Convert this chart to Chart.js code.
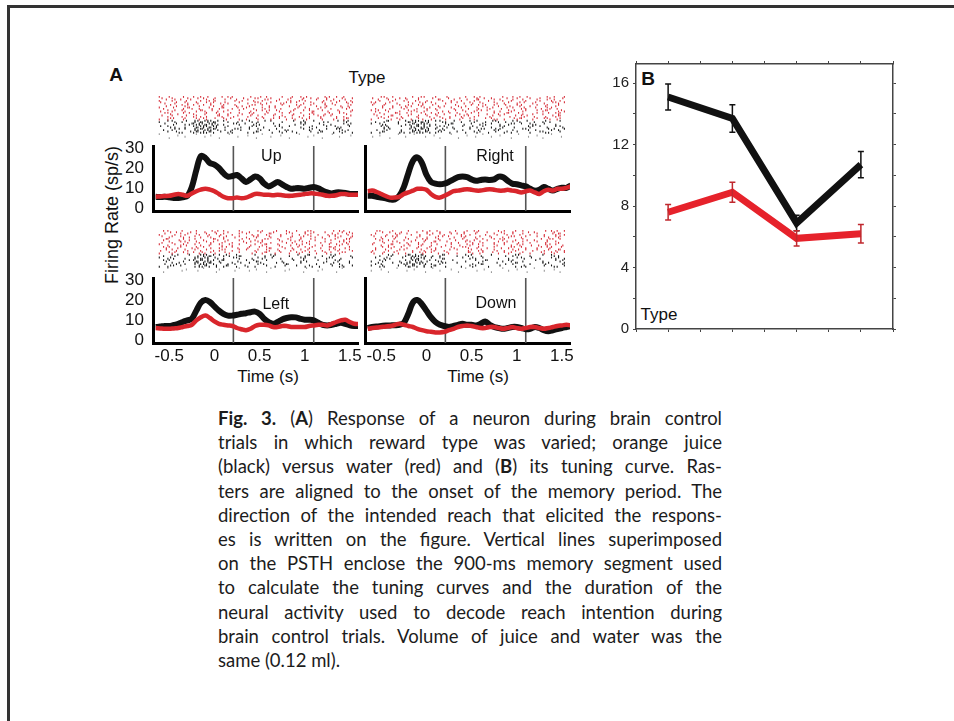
<!DOCTYPE html>
<html>
<head>
<meta charset="utf-8">
<script src="https://cdn.jsdelivr.net/npm/chart.js@4.4.1/dist/chart.umd.min.js"></script>
<style>
  html, body { margin: 0; padding: 0; background: #fff; }
  body { width: 954px; height: 721px; position: relative; overflow: hidden;
         font-family: "Liberation Sans", Arial, sans-serif; color: #111; }
  canvas { position: absolute; display: block; }
  .frame { position: absolute; background: #333; }
  .lbl { position: absolute; white-space: nowrap; transform: translate(-50%, -50%); }
  #caption { position: absolute; left: 218px; top: 406px; width: 504px;
             font-family: Lato, "Noto Sans", sans-serif; font-size: 18.5px; line-height: 24.2px; color: #1c1c1c; }
  #caption div { text-align: justify; text-align-last: justify; height: 24.2px; }
  #caption div.last { text-align-last: left; }
</style>
</head>
<body>
<div class="frame" style="left:7px;top:5px;width:947px;height:3px"></div>
<div class="frame" style="left:7px;top:5px;width:3px;height:716px"></div>

<div class="lbl" style="left:116px;top:75px;font-weight:bold;font-size:19px">A</div>
<div class="lbl" style="left:367px;top:78px;font-size:17px">Type</div>
<div class="lbl" style="left:112px;top:215px;font-size:18px;transform:translate(-50%,-50%) rotate(-90deg)">Firing Rate (sp/s)</div>
<div class="lbl" style="left:268px;top:377px;font-size:17px">Time (s)</div>
<div class="lbl" style="left:478px;top:377px;font-size:17px">Time (s)</div>
<div class="lbl" style="left:648px;top:79px;font-weight:bold;font-size:19px">B</div>
<div class="lbl" style="left:659px;top:315px;font-size:17px">Type</div>

<div id="caption">
  <div><b>Fig. 3.</b> (<b>A</b>) Response of a neuron during brain control</div>
  <div>trials in which reward type was varied; orange juice</div>
  <div>(black) versus water (red) and (<b>B</b>) its tuning curve. Ras-</div>
  <div>ters are aligned to the onset of the memory period. The</div>
  <div>direction of the intended reach that elicited the respons-</div>
  <div>es is written on the figure. Vertical lines superimposed</div>
  <div>on the PSTH enclose the 900-ms memory segment used</div>
  <div>to calculate the tuning curves and the duration of the</div>
  <div>neural activity used to decode reach intention during</div>
  <div>brain control trials. Volume of juice and water was the</div>
  <div class="last">same (0.12 ml).</div>
</div>

<script>
// ---- data ----
// PSTH bins (s), one per 50 ms
const timeGrid = [-0.65, -0.6, -0.55, -0.5, -0.45, -0.4, -0.35, -0.3, -0.25, -0.2,
                  -0.15, -0.1, -0.05, 0, 0.05, 0.1, 0.15, 0.2, 0.25, 0.3,
                  0.35, 0.4, 0.45, 0.5, 0.55, 0.6, 0.65, 0.7, 0.75, 0.8,
                  0.85, 0.9, 0.95, 1, 1.05, 1.1, 1.15, 1.2, 1.25, 1.3,
                  1.35, 1.4, 1.45, 1.5, 1.55, 1.6];
const timeTicks = [-0.5, 0, 0.5, 1, 1.5];
const rateTicks = [0, 10, 20, 30];
const memoryWindow = [0.21, 1.1];
const directions = ['Up', 'Right', 'Left', 'Down'];

// firing rates (sp/s): juice = black, water = red
const upJuice = [5.6, 5.5, 5.6, 5.3, 5.0, 5.0, 5.4, 6.0, 10.5, 19.0,
                 26.0, 25.0, 22.5, 21.7, 20.0, 17.4, 15.7, 16.0, 16.5, 14.8,
                 13.0, 14.3, 15.7, 14.8, 12.2, 10.8, 11.8, 13.0, 11.8, 10.5,
                 9.6, 9.9, 9.9, 9.6, 10.1, 10.5, 9.9, 8.7, 7.8, 7.3,
                 7.8, 7.8, 7.5, 7.0, 7.0, 7.0];
const upWater = [5.6, 5.8, 6.0, 6.1, 6.6, 7.0, 6.6, 6.1, 7.3, 8.4,
                 9.2, 9.6, 9.2, 8.4, 7.0, 5.6, 4.9, 4.9, 5.2, 4.9,
                 5.2, 6.1, 7.0, 7.0, 6.6, 6.6, 6.4, 6.6, 6.4, 6.1,
                 6.1, 6.4, 6.6, 7.0, 7.3, 7.3, 7.0, 6.6, 6.1, 6.1,
                 6.4, 7.0, 7.0, 6.6, 6.6, 6.6];
const rightJuice = [6.1, 6.1, 5.6, 5.2, 4.8, 4.3, 4.3, 6.1, 10.5, 17.4,
                    23.5, 25.3, 22.6, 16.6, 13.1, 12.2, 11.9, 12.2, 13.1, 14.3,
                    15.4, 15.7, 15.4, 14.3, 13.6, 14.0, 14.3, 14.0, 14.3, 15.7,
                    15.4, 13.6, 12.2, 11.9, 11.3, 10.8, 9.6, 8.7, 9.1, 10.5,
                    9.6, 8.7, 9.6, 10.1, 10.1, 11.3];
const rightWater = [8.4, 8.7, 8.0, 7.0, 6.0, 5.2, 5.2, 5.6, 7.0, 7.8,
                    8.7, 9.6, 9.6, 9.1, 7.0, 5.6, 5.2, 6.1, 7.3, 8.4,
                    8.7, 9.1, 9.4, 9.1, 8.7, 8.7, 9.1, 9.4, 9.1, 8.7,
                    8.7, 9.1, 8.7, 8.4, 7.8, 8.4, 8.7, 7.8, 7.0, 8.4,
                    9.1, 8.7, 9.6, 9.6, 10.1, 10.8];
const leftJuice = [6.5, 6.7, 7.0, 7.0, 7.5, 8.1, 9.0, 9.8, 10.6, 14.7,
                   18.7, 20.0, 19.0, 16.8, 14.7, 13.1, 12.2, 12.2, 12.6, 13.1,
                   13.4, 13.9, 14.2, 13.1, 10.6, 9.0, 8.1, 9.0, 10.3, 11.0,
                   11.4, 11.3, 10.6, 10.1, 10.1, 9.8, 8.6, 7.6, 7.3, 7.6,
                   8.1, 8.6, 8.1, 7.3, 7.0, 7.0];
const leftWater = [6.0, 5.8, 5.6, 5.6, 5.8, 6.0, 6.5, 7.0, 7.6, 9.8,
                   11.4, 12.2, 11.0, 9.3, 8.1, 7.6, 7.3, 7.0, 6.0, 5.4,
                   4.9, 5.6, 7.0, 7.6, 7.6, 7.3, 6.5, 6.5, 7.0, 7.0,
                   6.5, 6.5, 6.5, 6.5, 7.0, 7.3, 7.6, 7.6, 7.3, 8.1,
                   9.0, 9.8, 10.1, 9.0, 8.1, 8.0];
const downJuice = [6.0, 6.5, 6.8, 7.0, 7.2, 7.3, 7.4, 7.6, 8.6, 13.1,
                   18.7, 20.0, 17.9, 14.7, 11.4, 9.0, 7.6, 7.0, 6.5, 7.0,
                   7.6, 8.1, 7.6, 7.6, 7.3, 8.1, 9.3, 7.6, 6.5, 6.0,
                   5.6, 6.0, 6.5, 6.5, 6.0, 5.4, 5.6, 6.5, 6.0, 4.9,
                   4.4, 4.9, 5.4, 6.0, 6.5, 7.0];
const downWater = [5.6, 6.0, 6.2, 6.5, 6.8, 7.0, 7.5, 8.1, 7.6, 7.0,
                   6.5, 5.6, 4.9, 4.4, 4.1, 3.8, 3.8, 4.1, 4.9, 5.6,
                   6.5, 7.0, 7.3, 7.0, 6.5, 6.0, 6.0, 6.5, 6.5, 6.0,
                   5.6, 6.0, 6.5, 6.0, 5.6, 6.0, 6.5, 6.5, 6.0, 5.6,
                   6.0, 6.5, 7.0, 7.3, 7.6, 7.3];

// rasters: each string holds two trials, one char per 50-ms bin
// '.' none; 1/2/3 spike in first trial (early/mid/late in bin); a/b/c same for second trial;
// x, y, z spikes in both trials
const upRasterWater = [
  "x.2a.3c.1y b2.a3.x1.c .2by.1a.3. c1.x2b.a3y .2c1.a",
  "a3.y.1b2.c .x3a.2.c1b 3.a.y2.b1. x.c2a.3.b1 y.a2c.",
  "2b.c1.x.3a .1y.b2a.3. c.2x.a1.by 3.1c.2a.x. b2.3a1",
  ".c3.a2y.1b 2.x.c1.3ab .y2.1c.a3. b.x1.2c.3a .1b.y2",
  "1a.2.c3x.b .3b.y1.a2c 2.a.x3.1b. .c2.1a.y3. a.3c2.",
  "b.1y.2a.c3 x.2c.a1.3. .b3.1y.2a. c2.3.xa.1b .3a.c1",
  ".2x.b3.1a. c1.2a.y.3b .x1.c2.a3. 2b.1.ya.c3 b.1x.2",
  "3.a1.b2.yc .a.3x.1b2. c2.1a.3.yb .1c3.a.x2. 1b.a3.",
  "a.y2.c1.3b 2a.1.x3.c. b.3a2.y.1c .x.2b1.3a. c2.y1b"];
const upRasterJuice = [
  "a.1x.b2.zx yzxy.1a.b2 .x.a3.1.c ..2.ya.1.b b.3.x1",
  ".2.b1.ayxz xyzx.a.2x. 1.yb..3.a. .c.x1..2b. a..1yb",
  "2.xc..a.xy zxyz.b1..a .y3.b..1x. 2..a.yc..1 .xb.2.",
  ".a.y3.1.zy xzyx.b.y2a .1.x.c.2.b a..3.y.b.1 .2x.a.",
  "..1.xb.2yx zyx.2.ya.. c.y1..b.x3 .1a..2.y1. c.x2.a"];
const upRasterTail = [
  "1...b...3. ..a...2... c...1...b. ..3...a... 2...c.",
  "..b...1... 3...a...2. ..c...1... b...3...a. ..1..."];

const rightRasterWater = [
  "b.2x.1c.a3 .y2.b1.3a. c.1.x2b.a. 3c.1y.2a.b .x3.c1",
  ".3a.1y.c2. b1.a.3x.c2 .a2.y1.b3. x.c1.2a.3b .1y.a2",
  "x1.b2.a.3c .2y.1a.b3. 1c.x.2a.3b .a1.y3.c2. b.2x.1",
  "2.c1.a3.yb .x1.2c.a.3 b.a2.1y.3c .2b.x1.a3. c1.y.2",
  ".a3.b1.x2. c.2y.a1.3b .1c.3a.x2. b3.1.ya.2c .x1b.3",
  "1y.2a.c.3b x.b1.2c.a3 .2a.y3.1c. a.x2.b1.3. y1.c2a",
  "c.1a.3x.2b .3c.1y.a2. x.b2.1.a3c .y1.2b.c3. a2.x1.",
  ".2b.y1.a3. c1.x.2a.b3 .y3.a1.c2. 1.b3.x2.a. c.2y1b",
  "a3.1c.x2.b .1a.y.3b2. c2.1a.3.xb .a.2y1.c3. 2x.b1."];
const rightRasterJuice = [
  ".a.y1.b.xy zxyz.1xb.2 .a.1y.c.2x .b.1x.2.a. yc..1.",
  "1.xb..2.ay xyzx.a.2y1 .c.2.bx.1. a.y2.1.xb. 2..a.b",
  "..2ya..1.z yxzy.b1x.a .2.yc.1.a. x1.b..3y.2 .a.1x.",
  ".b.x2..a.x zyxz.1ya.2 .b.1.y2.cx 1..a.2x.b. .2yc.1",
  "a.y1..cx.y xzyx.y2.b. 1.a.x2.b.1 .yc.1..a.2 xb..1."];
const rightRasterTail = [
  "..a...2... 1...c...3. ..b...1... a...2...c. ..1...",
  "2...b...1. ..3...a... b...2...1. ..c...3... a...2."];

const leftRasterWater = [
  ".1x.a2.b3. c.2y.1a.3b .a.x1.c2.3 b.1.y2a.c. 3.x1b.",
  "a2.c.1y.3b .x.2b1.a3. 2c.a.y1.b3 .1c.x2.a.b 2y.3a1",
  "3.b1.x.a2c .2a.1y.c3. b.x1.3a.2. c1.y.2b.a3 .x2.c1",
  ".y1.c3.a2. b.3x.1a.c2 .1b.y2.3a. x.c1.2b.3. a1.y2c",
  "c.2a.1x.3b .1y.c2.a.3 b2.x1.a.3c .y.2b1.c3. a.1x2.",
  "1.a3.yb.2c .c1.x.2a3. .b2.y1.3a. c.x2.1b.a3 .2y.1c",
  ".x2.b1.c3a 2.a.y3.1b. c1.2.xa.3b .a2.1y.c.3 x1.b2.",
  "b3.1a.x.2c .1c.y2.a3. 2.b1.x.3a. c2.1y.b.a3 .x1.2a",
  "a.2y.3c.1b x.1a.2b.3. .c3.y1.a2. b.x2.1c.3a 1.y2.b"];
const leftRasterJuice = [
  ".a.x2..1.y zxy.1yb.xa ..2.c.x1.. b.2.y1..a. x1..c.",
  "1.yb..a.zx yz.x.a.2x. .c.1y.2.b. .a.x1.2..y 2.b..1",
  ".x2..c.1xy xzy.y1..b. 2.xa.1..c. .2.yb..1.a .x1.b.",
  ".b.1y.a.zx zyx.2.ax.1 .1.yb..2.x a..1..c.2. y.a.2.",
  "a.y2.1..bz yx.z.y1.a. x.b..1.a.2 ..1.ax.b.. 2.ya.1"];
const leftRasterTail = [
  "..1...b... 2...a...3. ..c...1... b...2...a. ..3...",
  ".a...2...1 ...b...3.. .1...a...2 ...c...1.. .b...2"];

const downRasterWater = [
  ".2x.b1.a3. c.1y.2a.b3 .c2.x1.a.3 b1.y.2c.a. 3.x2.1",
  "a1.c.3y.2b .b.x2.1a3. 1y.a2.c.3b .x.1c2.a3. b.2y1a",
  "3.b2.x1.a. c2.a.y3.1b .x1.b2.3a. c.y2.a1.3. 2b.x1c",
  ".1y.a2.c3. b.x1.3a.2c .2b.y.1a3. x1.c.2b.a3 .y2.1b",
  "c.3a.1x.b2 .a2.y1.3c. b.1x.2a.c3 .y.1b2.a3. c1.x.2",
  "2.b.y1.c3a .x1.a2.b3. c.2y.1a.3b .1c.x2.b.a 3y.1c.",
  ".a3.x2.1b. c1.y.a2.3b .2x.c1.a3. b.y2.1a.c3 .x1.2b",
  "b1.2a.y3.c .3b.x1.a2. 1.c2.ya.3b .a.x2.1c3. b2.y1a",
  "x.c1.2b.a3 .2y.1c.3a. a.3x.b1.2c .1y.c2.a.3 b.x2.1"];
const downRasterJuice = [
  "..a.x1..yx zyx.b.y1.. a.x2.c..1. .b.y2..a.. 1.xc.2",
  ".1.yb..2.z xyz.1.xa.. .2.yb.1..c ..a.1x.2.b ..1y.a",
  "a.x2..c.1y zx.y.xb..1 ..a.2.y1.. c.x1.b..2. a..1y.",
  ".yb..1.xzx yzx.a.y2.. 1..c.xa..2 .b.y1..a.. x2..c1",
  "1.ya..2.xy x.z.y1.b.. .a.x2..b.. 1..c.ya... 2.xb.1"];
const downRasterTail = [
  "..b...1... a...2...c. ..1...b... 3...a...1. ..c...",
  "1...a...2. ..c...1... b...3...a. ..1...b... 2...a."];

// tuning curve (panel B): mean rate in the memory segment, +/- SEM
const tuningX = [1, 2, 3, 4];
const juiceMean = [15.1, 13.7, 6.9, 10.7];
const juiceErr = [0.85, 0.9, 0.5, 0.85];
const waterMean = [7.6, 8.9, 5.9, 6.2];
const waterErr = [0.5, 0.65, 0.5, 0.6];
const tuningTicks = [0, 2, 4, 6, 8, 10, 12, 14, 16];

// ---- layout ----
const tMin = -0.68, tMax = 1.59;
const rateMin = -1.5, rateMax = 31;
const colLeft = [153, 365];
const psthTop = [146, 278];
const rasterTop = [91, 225];
const areaW = 205, psthH = 65, rasterH = 53, yAxisW = 40, padTop = 12, padRight = 12;
const labelPos = [{ t: 0.63, rate: 25.5 }, { t: 0.76, rate: 25.5 }, { t: 0.68, rate: 17.5 }, { t: 0.77, rate: 18 }];

const BLACK = '#111', RED = '#d9262c';
const tickFont = { family: '"Liberation Sans", Arial, sans-serif', size: 17 };

// which trial (0 = first, 1 = second) and which third of the bin each code marks
const spikeCode = {
    '1': [[0, 0]], '2': [[0, 1]], '3': [[0, 2]],
    a: [[1, 0]], b: [[1, 1]], c: [[1, 2]],
    x: [[0, 0], [1, 2]], y: [[0, 2], [1, 0]], z: [[0, 1], [1, 1]]
};

const addCanvas = (left, top, w, h) => {
    const c = document.createElement('canvas');
    c.width = w; c.height = h;
    c.style.left = left + 'px'; c.style.top = top + 'px';
    document.body.appendChild(c);
    return c;
};

const toSpikes = (rows, firstTrial) => {
    const pts = [];
    rows.forEach((row, r) => {
        [...row.replace(/ /g, '')].forEach((ch, i) => {
            if (!spikeCode[ch] || i >= timeGrid.length) return;
            spikeCode[ch].forEach(([trial, third]) => {
                pts.push({ x: timeGrid[i] + (third - 1) * 0.016, y: firstTrial + 2 * r + trial });
            });
        });
    });
    return pts;
};

// scales report label overhang as padding; drop it so chart areas line up exactly
const noPad = s => { s.paddingTop = 0; s.paddingBottom = 0; s.paddingLeft = 0; s.paddingRight = 0; };

const directionLabel = {
    id: 'directionLabel',
    afterDatasetsDraw(chart, args, opts) {
        const { ctx, scales: { x, y } } = chart;
        ctx.save();
        ctx.font = '16px "Liberation Sans", Arial, sans-serif';
        ctx.fillStyle = BLACK;
        ctx.textAlign = 'center';
        ctx.textBaseline = 'middle';
        ctx.fillText(opts.text, x.getPixelForValue(opts.t), y.getPixelForValue(opts.rate));
        ctx.restore();
    }
};

const errorBars = {
    id: 'errorBars',
    afterDatasetsDraw(chart) {
        const { ctx, scales: { x, y } } = chart;
        chart.data.datasets.forEach(ds => {
            ctx.save();
            ctx.strokeStyle = ds.errorColor;
            ctx.lineWidth = 1.5;
            ds.data.forEach((pt, i) => {
                const px = x.getPixelForValue(pt.x);
                const hi = y.getPixelForValue(pt.y + ds.errors[i]);
                const lo = y.getPixelForValue(pt.y - ds.errors[i]);
                ctx.beginPath();
                ctx.moveTo(px, hi); ctx.lineTo(px, lo);
                ctx.moveTo(px - 3, hi); ctx.lineTo(px + 3, hi);
                ctx.moveTo(px - 3, lo); ctx.lineTo(px + 3, lo);
                ctx.stroke();
            });
            ctx.restore();
        });
    }
};

const panels = [
    { juice: upJuice, water: upWater, rw: upRasterWater, rj: upRasterJuice, rt: upRasterTail, col: 0, row: 0 },
    { juice: rightJuice, water: rightWater, rw: rightRasterWater, rj: rightRasterJuice, rt: rightRasterTail, col: 1, row: 0 },
    { juice: leftJuice, water: leftWater, rw: leftRasterWater, rj: leftRasterJuice, rt: leftRasterTail, col: 0, row: 1 },
    { juice: downJuice, water: downWater, rw: downRasterWater, rj: downRasterJuice, rt: downRasterTail, col: 1, row: 1 }
];

const baseOpts = {
    responsive: false,
    animation: false,
    events: [],
    plugins: { legend: { display: false }, tooltip: { enabled: false } }
};

const drawRaster = p => {
    const spikeSet = (data, color) => ({
        data, showLine: false,
        pointStyle: 'line', pointRotation: 90, pointRadius: 0.95,
        pointBorderWidth: 1.1, borderColor: color, pointBorderColor: color
    });
    const nWater = p.rw.length * 2, nJuice = p.rj.length * 2, nTail = p.rt.length * 2;
    new Chart(addCanvas(colLeft[p.col], rasterTop[p.row], areaW, rasterH), {
        type: 'scatter',
        data: {
            datasets: [
                spikeSet(toSpikes(p.rw, 0), '#d62f3a'),
                spikeSet(toSpikes(p.rj, nWater), '#1a1a1a'),
                spikeSet(toSpikes(p.rt, nWater + nJuice), '#9a9a9a')
            ]
        },
        options: {
            ...baseOpts,
            layout: { padding: 0 },
            scales: {
                x: { type: 'linear', min: tMin, max: tMax, display: false },
                y: { type: 'linear', min: -0.6, max: nWater + nJuice + nTail - 0.4, reverse: true, display: false }
            }
        }
    });
};

const drawPsth = (p, idx) => {
    const bottomRow = p.row === 1;
    const xH = bottomRow ? 25 : 2;
    const padBottom = bottomRow ? 0 : 10;
    const curve = (vals, color, width, order) => ({
        data: timeGrid.map((t, i) => ({ x: t, y: vals[i] })),
        borderColor: color, borderWidth: width, pointRadius: 0, tension: 0.35, order
    });
    new Chart(addCanvas(colLeft[p.col] - yAxisW, psthTop[p.row] - padTop,
                        yAxisW + areaW + padRight, padTop + psthH + xH + padBottom), {
        type: 'line',
        data: {
            datasets: [
                ...memoryWindow.map(t => ({
                    data: [{ x: t, y: rateMin }, { x: t, y: rateMax }],
                    borderColor: '#555', borderWidth: 1.6, pointRadius: 0, order: 3
                })),
                curve(p.juice, BLACK, 6, 2),
                curve(p.water, RED, 4.5, 1)
            ]
        },
        options: {
            ...baseOpts,
            layout: { padding: { top: padTop, right: padRight, bottom: padBottom, left: 0 } },
            plugins: { ...baseOpts.plugins, directionLabel: { text: directions[idx], ...labelPos[idx] } },
            scales: {
                x: {
                    type: 'linear', min: tMin, max: tMax,
                    afterFit: s => { s.height = xH; noPad(s); },
                    afterBuildTicks: s => { s.ticks = timeTicks.map(v => ({ value: v })); },
                    grid: { display: false, drawTicks: false },
                    border: { display: true, width: 3, color: '#000' },
                    ticks: { display: bottomRow, padding: 3, maxRotation: 0, autoSkip: false,
                             font: tickFont, color: BLACK, callback: v => String(v) }
                },
                y: {
                    type: 'linear', min: rateMin, max: rateMax,
                    afterFit: s => { s.width = yAxisW; noPad(s); },
                    afterBuildTicks: s => { s.ticks = rateTicks.map(v => ({ value: v })); },
                    grid: { display: false, drawTicks: false },
                    border: { display: true, width: 3, color: '#000' },
                    ticks: { display: p.col === 0, padding: 9, autoSkip: false, font: tickFont, color: BLACK }
                }
            }
        },
        plugins: [directionLabel]
    });
};

panels.forEach((p, i) => {
    drawRaster(p);
    drawPsth(p, i);
});

// ---- panel B: tuning curve ----
const boxAxis = extra => ({
    type: 'linear',
    grid: { drawOnChartArea: false, tickLength: 3, color: '#444', lineWidth: 1 },
    border: { display: true, width: 1.5, color: '#444' },
    ...extra
});
const xBox = pos => boxAxis({
    position: pos, min: 0.5, max: 4.5,
    afterFit: s => { s.height = 3; noPad(s); },
    ticks: { display: false, stepSize: 0.5 }
});
const yBox = (pos, labels) => boxAxis({
    position: pos, min: 0, max: 17.25,
    afterFit: s => { s.width = labels ? 40 : 3; noPad(s); },
    afterBuildTicks: s => { s.ticks = tuningTicks.map(v => ({ value: v })); },
    ticks: { display: labels, padding: 4, color: '#222', autoSkip: false,
             font: { family: '"Liberation Sans", Arial, sans-serif', size: 15 },
             callback: v => (v % 4 === 0 ? String(v) : '') }
});

new Chart(addCanvas(596, 55, 305, 283), {
    type: 'line',
    data: {
        datasets: [
            { data: tuningX.map((x, i) => ({ x, y: juiceMean[i] })), errors: juiceErr, errorColor: '#111',
              borderColor: BLACK, borderWidth: 7, pointRadius: 0, borderJoinStyle: 'miter' },
            { data: tuningX.map((x, i) => ({ x, y: waterMean[i] })), errors: waterErr, errorColor: '#c0282e',
              borderColor: '#e6222b', borderWidth: 7, pointRadius: 0, borderJoinStyle: 'miter' }
        ]
    },
    options: {
        ...baseOpts,
        layout: { padding: { top: 6, right: 5, bottom: 6, left: 0 } },
        scales: {
            x: xBox('bottom'),
            x2: xBox('top'),
            y: yBox('left', true),
            y2: yBox('right', false)
        }
    },
    plugins: [errorBars]
});
</script>
</body>
</html>
